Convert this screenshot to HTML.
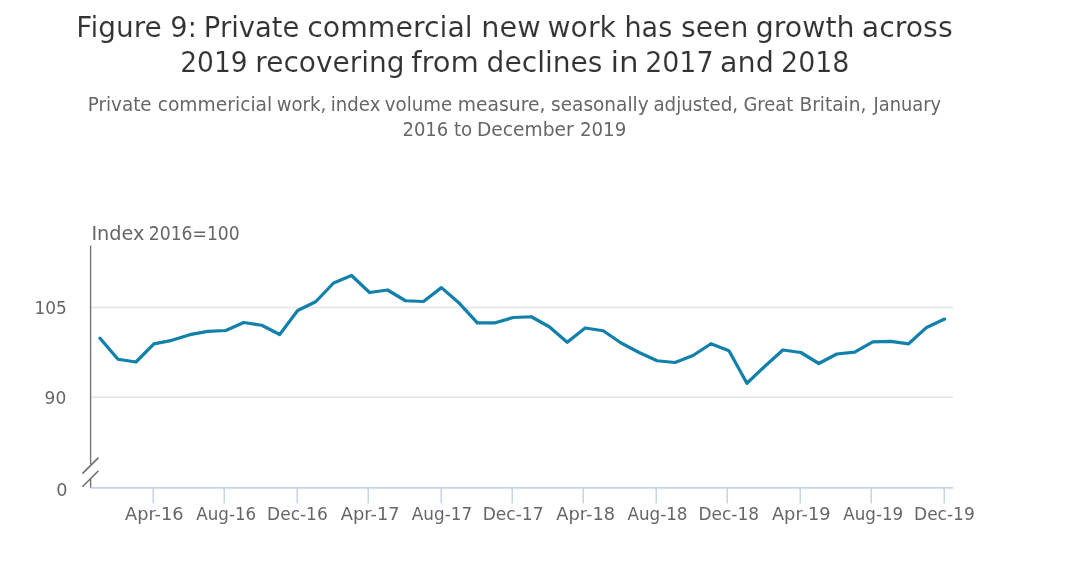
<!DOCTYPE html>
<html lang="en"><head><meta charset="utf-8"><title>Figure 9</title>
<style>
html,body{margin:0;padding:0;background:#fff;}
#c{position:relative;width:1068px;height:588px;overflow:hidden;background:#fff;font-family:"DejaVu Sans", "Liberation Sans", sans-serif;}
#c h1,#c p{margin:0;padding:0;font-weight:normal;font-size:inherit;}
#c span{position:absolute;left:0;top:0;white-space:nowrap;transform-origin:0 0;line-height:60px;height:60px;}
#c .title{font-size:28.7px;color:#333;-webkit-text-stroke:0.12px #fff;}
#c .sub{font-size:19.4px;color:#666;}
#c .lab{font-size:18.3px;color:#666;}
</style></head><body><div id="c">
<svg width="1068" height="588" viewBox="0 0 1068 588" style="position:absolute;left:0;top:0">
<path d="M90.6 307.6H953M90.6 397.2H953" stroke="#e4e4e4" stroke-width="1.5" fill="none"/>
<path d="M90.6 487.8H953" stroke="#c8d3ea" stroke-width="1.8" fill="none"/>
<path d="M153.25 487.8V503.6M224.25 487.8V503.6M297.25 487.8V503.6M368.25 487.8V503.6M441.25 487.8V503.6M512.25 487.8V503.6M583.25 487.8V503.6M656.25 487.8V503.6M727.25 487.8V503.6M800.25 487.8V503.6M871.25 487.8V503.6M944.25 487.8V503.6" stroke="#c8d3ea" stroke-width="1.5" fill="none"/>
<path d="M90.6 245.5V464.6M90.6 479V487.4" stroke="#707070" stroke-width="1.35" fill="none"/>
<path d="M82.4 473.6L98.5 457.6M82.4 486.8L98.5 470.7" stroke="#707070" stroke-width="1.6" fill="none"/>
<polyline points="100.00,338.25 117.97,359.25 135.94,362.00 153.91,343.90 171.88,340.30 189.85,334.70 207.82,331.40 225.79,330.50 243.76,322.50 261.73,325.25 279.70,334.50 297.67,310.50 315.64,301.75 333.61,283.00 351.58,275.50 369.55,292.50 387.52,290.00 405.49,300.75 423.46,301.50 441.43,287.60 459.40,303.30 477.37,322.80 495.34,322.80 513.31,317.50 531.28,316.75 549.25,326.75 567.22,342.20 585.19,328.00 603.16,330.75 621.13,343.00 639.10,352.50 657.07,360.75 675.04,362.50 693.01,355.50 710.98,343.75 728.95,350.75 746.92,383.25 764.89,366.25 782.86,350.00 800.83,352.50 818.80,363.50 836.77,354.00 854.74,352.10 872.71,341.80 890.68,341.40 908.65,343.80 926.62,327.40 944.59,319.10" fill="none" stroke="#1180aa" stroke-width="3.25" stroke-linejoin="round" stroke-linecap="round"/>
</svg>
<h1>
<span class="title" style="transform:translate(76.33px,-3.00px) scaleX(0.9755)">Figure</span>
<span class="title" style="transform:translate(170.36px,-3.00px) scaleX(0.9498)">9:</span>
<span class="title" style="transform:translate(203.82px,-3.00px) scaleX(0.9561)">Private</span>
<span class="title" style="transform:translate(307.28px,-3.00px) scaleX(0.9887)">commercial</span>
<span class="title" style="transform:translate(481.30px,-3.00px) scaleX(1.0008)">new</span>
<span class="title" style="transform:translate(547.54px,-3.00px) scaleX(0.9835)">work</span>
<span class="title" style="transform:translate(624.46px,-3.00px) scaleX(0.9425)">has</span>
<span class="title" style="transform:translate(680.91px,-3.00px) scaleX(0.9853)">seen</span>
<span class="title" style="transform:translate(755.77px,-3.00px) scaleX(0.9895)">growth</span>
<span class="title" style="transform:translate(861.75px,-3.00px) scaleX(0.9885)">across</span>
<span class="title" style="transform:translate(180.24px,32.00px) scaleX(0.9224)">2019</span>
<span class="title" style="transform:translate(255.30px,32.00px) scaleX(0.9767)">recovering</span>
<span class="title" style="transform:translate(411.24px,32.00px) scaleX(1.0133)">from</span>
<span class="title" style="transform:translate(486.61px,32.00px) scaleX(0.9785)">declines</span>
<span class="title" style="transform:translate(610.38px,32.00px) scaleX(1.0800)">in</span>
<span class="title" style="transform:translate(645.15px,32.00px) scaleX(0.9363)">2017</span>
<span class="title" style="transform:translate(720.06px,32.00px) scaleX(0.9972)">and</span>
<span class="title" style="transform:translate(781.04px,32.00px) scaleX(0.9363)">2018</span>
</h1>
<p>
<span class="sub" style="transform:translate(87.76px,75.00px) scaleX(0.9449)">Private</span>
<span class="sub" style="transform:translate(157.64px,75.00px) scaleX(0.9638)">commericial</span>
<span class="sub" style="transform:translate(276.75px,75.00px) scaleX(0.9319)">work,</span>
<span class="sub" style="transform:translate(330.82px,75.00px) scaleX(0.9335)">index</span>
<span class="sub" style="transform:translate(384.73px,75.00px) scaleX(0.9382)">volume</span>
<span class="sub" style="transform:translate(457.75px,75.00px) scaleX(0.9669)">measure,</span>
<span class="sub" style="transform:translate(551.05px,75.00px) scaleX(0.9538)">seasonally</span>
<span class="sub" style="transform:translate(653.45px,75.00px) scaleX(0.9398)">adjusted,</span>
<span class="sub" style="transform:translate(743.43px,75.00px) scaleX(0.9250)">Great</span>
<span class="sub" style="transform:translate(799.43px,75.00px) scaleX(0.9564)">Britain,</span>
<span class="sub" style="transform:translate(873.50px,75.00px) scaleX(0.9199)">January</span>
<span class="sub" style="transform:translate(402.46px,100.00px) scaleX(0.9287)">2016</span>
<span class="sub" style="transform:translate(453.92px,100.00px) scaleX(0.9412)">to</span>
<span class="sub" style="transform:translate(476.88px,100.00px) scaleX(0.9632)">December</span>
<span class="sub" style="transform:translate(579.88px,100.00px) scaleX(0.9403)">2019</span>
</p>
<div class="y-axis-title">
<span class="sub" style="transform:translate(91.40px,204.00px) scaleX(0.9953)">Index</span>
<span class="sub" style="transform:translate(148.77px,204.00px) scaleX(0.8866)">2016=100</span>
</div>
<div class="y-axis-labels">
<span class="lab" style="transform:translate(34.60px,277.60px) scaleX(0.9248)">105</span>
<span class="lab" style="transform:translate(44.62px,368.40px) scaleX(0.9296)">90</span>
<span class="lab" style="transform:translate(56.18px,459.70px) scaleX(0.9658)">0</span>
</div>
<div class="x-axis-labels">
<span class="lab" style="transform:translate(125.01px,484.00px) scaleX(0.9712)">Apr-16</span>
<span class="lab" style="transform:translate(196.34px,484.00px) scaleX(0.9119)">Aug-16</span>
<span class="lab" style="transform:translate(267.10px,484.00px) scaleX(0.9297)">Dec-16</span>
<span class="lab" style="transform:translate(340.74px,484.00px) scaleX(0.9780)">Apr-17</span>
<span class="lab" style="transform:translate(411.87px,484.00px) scaleX(0.9197)">Aug-17</span>
<span class="lab" style="transform:translate(482.65px,484.00px) scaleX(0.9331)">Dec-17</span>
<span class="lab" style="transform:translate(556.33px,484.00px) scaleX(0.9730)">Apr-18</span>
<span class="lab" style="transform:translate(627.42px,484.00px) scaleX(0.9162)">Aug-18</span>
<span class="lab" style="transform:translate(698.47px,484.00px) scaleX(0.9276)">Dec-18</span>
<span class="lab" style="transform:translate(771.95px,484.00px) scaleX(0.9724)">Apr-19</span>
<span class="lab" style="transform:translate(843.26px,484.00px) scaleX(0.9145)">Aug-19</span>
<span class="lab" style="transform:translate(914.02px,484.00px) scaleX(0.9310)">Dec-19</span>
</div>
</div></body></html>
